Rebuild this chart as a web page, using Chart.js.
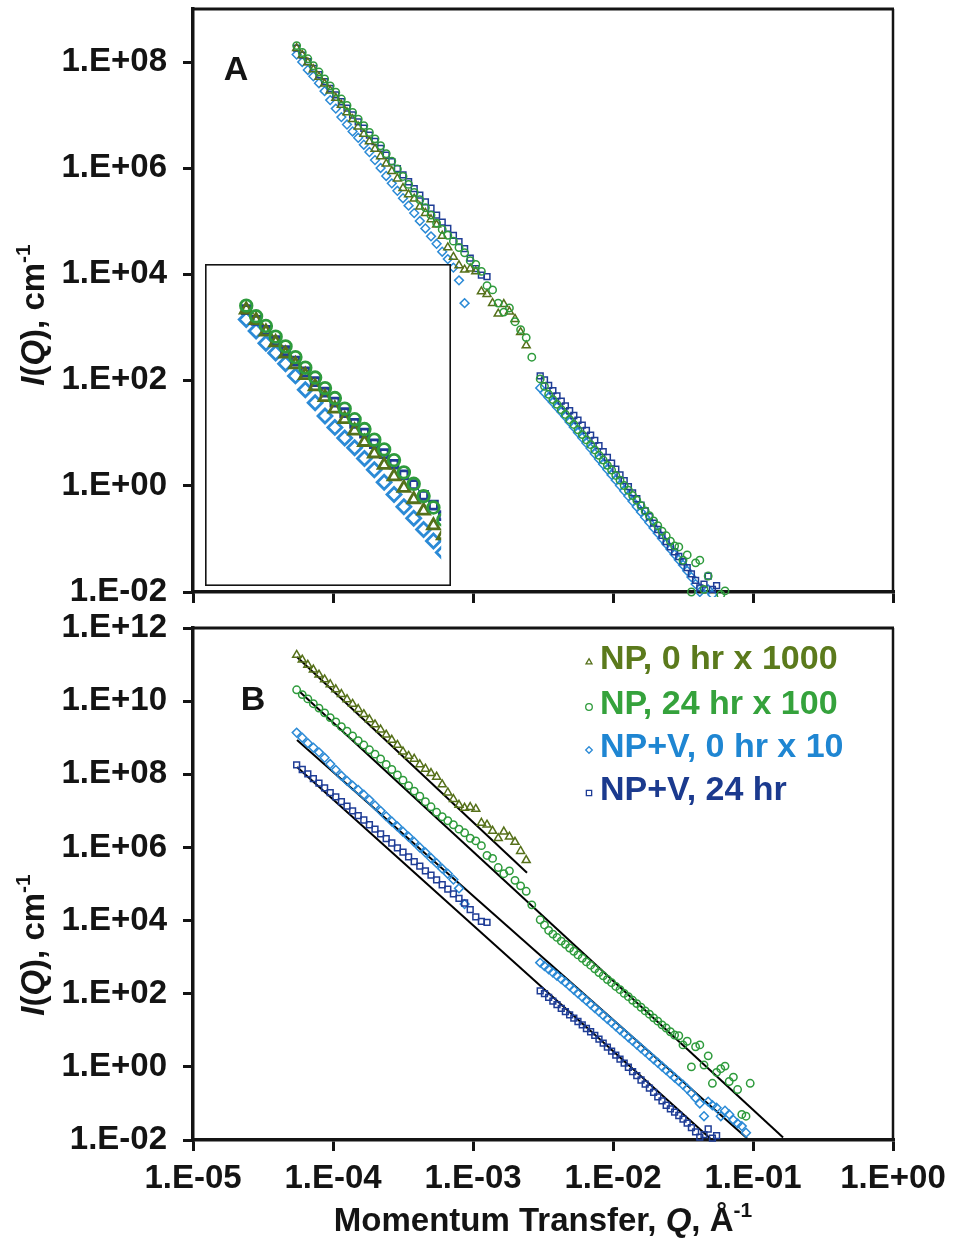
<!DOCTYPE html>
<html>
<head>
<meta charset="utf-8">
<title>SANS / USANS intensity</title>
<script src="https://cdn.jsdelivr.net/npm/chart.js@4.4.1/dist/chart.umd.min.js"></script>
<style>
  body { margin: 0; background: #fff; }
  #wrap { position: relative; width: 955px; height: 1240px; }
  canvas { position: absolute; left: 0; }
  #chartA { top: 0; }
  #chartB { top: 614px; }
  #inset { left: 205px; top: 264px; }
</style>
</head>
<body>
<div id="wrap">
  <canvas id="chartA" width="955" height="614"></canvas>
  <canvas id="chartB" width="955" height="626"></canvas>
  <canvas id="inset" width="246" height="322"></canvas>
</div>
<script>
// ---- data (raw intensities, cm-1) ----
const qUsans = [5.50e-5, 6.03e-5, 6.61e-5, 7.24e-5, 7.94e-5, 8.71e-5, 9.55e-5, 1.047e-4, 1.148e-4, 1.259e-4,
  1.380e-4, 1.514e-4, 1.660e-4, 1.820e-4, 1.995e-4, 2.188e-4, 2.399e-4, 2.630e-4, 2.884e-4, 3.162e-4,
  3.467e-4, 3.802e-4, 4.169e-4, 4.571e-4, 5.012e-4, 5.495e-4, 6.026e-4, 6.607e-4, 7.244e-4, 7.943e-4,
  8.710e-4, 9.550e-4, 1.047e-3, 1.148e-3, 1.259e-3, 1.380e-3, 1.514e-3, 1.660e-3, 1.820e-3, 1.995e-3,
  2.188e-3, 2.399e-3, 2.630e-3];
const qSans = [3.02e-3, 3.24e-3, 3.47e-3, 3.72e-3, 3.98e-3, 4.27e-3, 4.57e-3, 4.90e-3, 5.25e-3, 5.62e-3,
  6.03e-3, 6.46e-3, 6.92e-3, 7.41e-3, 7.94e-3, 8.51e-3, 9.12e-3, 9.77e-3, 1.047e-2, 1.122e-2,
  1.202e-2, 1.288e-2, 1.380e-2, 1.479e-2, 1.585e-2, 1.698e-2, 1.820e-2, 1.950e-2, 2.089e-2, 2.239e-2,
  2.399e-2, 2.570e-2, 2.754e-2, 2.951e-2, 3.162e-2, 3.388e-2, 3.631e-2, 3.890e-2, 4.169e-2, 4.467e-2,
  4.786e-2, 5.129e-2, 5.495e-2, 5.888e-2, 6.310e-2, 6.761e-2, 7.244e-2, 7.762e-2, 8.318e-2, 8.913e-2,
  9.550e-2];

const npZeroUsans = [1.82e8, 1.35e8, 9.77e7, 7.24e7, 5.25e7, 3.89e7, 2.88e7, 2.09e7, 1.55e7, 1.12e7,
  8.32e6, 6.03e6, 4.37e6, 3.16e6, 2.29e6, 1.66e6, 1.20e6, 8.71e5, 6.31e5, 4.17e5,
  3.16e5, 2.63e5, 1.86e5, 1.41e5, 1.07e5, 8.51e4, 5.25e4, 3.16e4, 2.09e4, 1.45e4,
  1.20e4, 1.26e4, 1.12e4, 4.68e3, 4.17e3, 2.82e3, 1.78e3, 2.69e3, 1.95e3, 1.41e3,
  7.94e2, 4.47e2];
const np24Usans = [2.04e8, 1.51e8, 1.15e8, 8.51e7, 6.46e7, 4.79e7, 3.55e7, 2.69e7, 2.00e7, 1.51e7,
  1.12e7, 8.32e6, 6.31e6, 4.68e6, 3.55e6, 2.63e6, 1.86e6, 1.35e6, 9.55e5, 6.92e5,
  4.90e5, 3.47e5, 2.51e5, 1.78e5, 1.29e5, 9.12e4, 6.92e4, 5.37e4, 4.17e4, 3.16e4,
  2.51e4, 1.78e4, 1.51e4, 1.12e4, 6.03e3, 5.01e3, 2.82e3, 1.91e3, 2.29e3, 1.26e3,
  8.91e2, 6.31e2, 2.69e2];
const npv0Usans = [1.38e8, 1.00e8, 7.08e7, 5.37e7, 3.98e7, 2.82e7, 1.91e7, 1.32e7, 9.12e6, 6.61e6,
  4.90e6, 3.72e6, 2.75e6, 2.00e6, 1.41e6, 1.00e6, 7.08e5, 5.13e5, 3.72e5, 2.69e5,
  1.95e5, 1.41e5, 1.00e5, 7.24e4, 5.13e4, 3.72e4, 2.63e4, 1.91e4, 1.32e4, 7.59e3,
  2.82e3];
const npv24Usans = [1.82e8, 1.35e8, 1.02e8, 7.59e7, 5.75e7, 4.27e7, 3.16e7, 2.40e7, 1.78e7, 1.35e7,
  1.00e7, 7.41e6, 5.62e6, 4.17e6, 3.16e6, 2.34e6, 1.74e6, 1.32e6, 9.77e5, 7.41e5,
  5.50e5, 4.07e5, 3.09e5, 2.29e5, 1.74e5, 1.29e5, 9.55e4, 7.24e4, 5.37e4, 4.07e4,
  3.02e4, 2.00e4, 1.26e4, 9.55e3, 8.91e3];

const np24Sans = [105, 75.9, 53.7, 42.7, 34.7, 27.5, 22.4, 17.8, 14.5, 11.5,
  9.33, 7.41, 6.03, 4.79, 3.80, 3.09, 2.45, 2.00, 1.58, 1.29,
  1.02, 0.832, 0.661, 0.537, 0.427, 0.339, 0.275, 0.219, 0.178, 0.141,
  0.115, 0.0912, 0.0741, 0.0708, 0.0398, 0.0501, 0.0100, 0.0355, 0.0398, 0.0112,
  0.0200, 0.00355, 0.00708, 0.00891, 0.0105, 0.00398, 0.00525, 0.00240, 0.000500, 0.000447,
  0.00355];
const npv0Sans = [70.8, 57.5, 46.8, 38.0, 30.9, 25.1, 20.4, 16.2, 12.9, 10.2,
  8.13, 6.46, 5.13, 4.07, 3.24, 2.57, 2.04, 1.62, 1.29, 1.02,
  0.813, 0.646, 0.513, 0.407, 0.324, 0.257, 0.204, 0.162, 0.129, 0.102,
  0.0813, 0.0646, 0.0513, 0.0407, 0.0324, 0.0251, 0.0191, 0.0141, 0.0100, 0.00447,
  0.0112, 0.00891, 0.00759, 0.00447, 0.00631, 0.00501, 0.00355, 0.00282, 0.00240, 0.00158];
const npv24Sans = [120, 100, 79.4, 63.1, 50.1, 39.8, 32.4, 26.3, 21.4, 17.4,
  14.1, 11.2, 9.12, 7.24, 5.75, 4.47, 3.47, 2.69, 2.09, 1.62,
  1.26, 0.977, 0.741, 0.575, 0.437, 0.339, 0.263, 0.200, 0.151, 0.117,
  0.0891, 0.0708, 0.0575, 0.0468, 0.0372, 0.0288, 0.0219, 0.0166, 0.0120, 0.0141,
  0.0200, 0.0112, 0.0132];

const seriesNames = ['NP, 0 hr x 1000', 'NP, 24 hr x 100', 'NP+V, 0 hr x 10', 'NP+V, 24 hr'];
const scaleFactors = [1000, 100, 10, 1];

// power-law fit lines shown in panel B (already multiplied)
const fitQ = [[5.53e-5, 2.43e-3], [5.81e-5, 0.164], [5.53e-5, 0.0906], [5.53e-5, 0.0493]];
const fitI = [[1.62e11, 2.04e5], [1.78e10, 1.17e-2], [8.71e8, 1.12e-2], [1.58e8, 1.12e-2]];

const xTickVals = [1e-5, 1e-4, 1e-3, 1e-2, 1e-1, 1];
const xTickLabels = ['1.E-05', '1.E-04', '1.E-03', '1.E-02', '1.E-01', '1.E+00'];
const yTickValsA = [1e-2, 1, 1e2, 1e4, 1e6, 1e8];
const yTickLabelsA = ['1.E-02', '1.E+00', '1.E+02', '1.E+04', '1.E+06', '1.E+08'];
const yTickValsB = [1e-2, 1, 1e2, 1e4, 1e6, 1e8, 1e10, 1e12];
const yTickLabelsB = ['1.E-02', '1.E+00', '1.E+02', '1.E+04', '1.E+06', '1.E+08', '1.E+10', '1.E+12'];

// ---- styling ----
const FONT = "'Liberation Sans', Arial, Helvetica, sans-serif";
const INK = '#141414';
const markColors = ['#56701a', '#2e9b3c', '#2b8ad6', '#1f3d96'];
const textColors = ['#5b7a1c', '#35a23c', '#1f86d2', '#1b3a8e'];
const markStyles = ['triangle', 'circle', 'rectRot', 'rect'];
const markRadius = [4.6, 3.7, 4.4, 4.1];
const drawOrder = [1, 0, 3, 2];

Chart.defaults.font.family = FONT;
Chart.defaults.color = INK;

const usans = [npZeroUsans, np24Usans, npv0Usans, npv24Usans];
const sans = [[], np24Sans, npv0Sans, npv24Sans];

function pts(q, vals, factor) {
  return vals.map((v, i) => ({ x: q[i], y: v * factor }));
}

function markerSet(i, data, r, lw) {
  return {
    data: data,
    showLine: false,
    pointStyle: markStyles[i],
    pointRadius: r,
    pointBorderWidth: lw,
    pointBorderColor: markColors[i],
    pointBackgroundColor: 'rgba(0,0,0,0)',
    borderColor: markColors[i],
    backgroundColor: 'rgba(0,0,0,0)',
    order: drawOrder[i],
    clip: 5
  };
}

function xAxis(showLabels, h) {
  return {
    type: 'logarithmic', min: 1e-5, max: 1,
    afterBuildTicks: ax => { ax.ticks = xTickVals.map(v => ({ value: v })); },
    afterFit: ax => { ax.height = h; ax.paddingLeft = 0; ax.paddingRight = 0; },
    border: { display: true, width: 3.5, color: INK },
    grid: { drawOnChartArea: false, drawTicks: true, tickLength: 11, lineWidth: 3, color: INK },
    ticks: {
      display: showLabels, autoSkip: false, maxRotation: 0, minRotation: 0, padding: 8, color: INK,
      font: { size: 33, weight: 'bold' },
      callback: v => xTickLabels[xTickVals.indexOf(v)]
    }
  };
}

function yAxis(vals, labels, min, max) {
  return {
    type: 'logarithmic', min: min, max: max,
    afterBuildTicks: ax => { ax.ticks = vals.map(v => ({ value: v })); },
    afterFit: ax => { ax.width = 193; ax.paddingTop = 0; ax.paddingBottom = 0; },
    border: { display: true, width: 3.5, color: INK },
    grid: { drawOnChartArea: false, drawTicks: true, tickLength: 10, lineWidth: 3, color: INK },
    ticks: {
      autoSkip: false, padding: 16, color: INK,
      font: { size: 33, weight: 'bold' },
      callback: v => labels[vals.indexOf(v)]
    }
  };
}

// text with mixed styles, centred on (x, y)
function richText(ctx, parts, x, y, rotate) {
  const size = 33;
  const fontOf = p => (p.it ? 'italic ' : '') + 'bold ' + (p.sup ? 21 : size) + 'px ' + FONT;
  ctx.save();
  ctx.translate(x, y);
  if (rotate) ctx.rotate(-Math.PI / 2);
  let total = 0;
  parts.forEach(p => { ctx.font = fontOf(p); total += ctx.measureText(p.t).width; });
  let cx = -total / 2;
  ctx.fillStyle = INK;
  ctx.textAlign = 'left';
  ctx.textBaseline = 'middle';
  parts.forEach(p => {
    ctx.font = fontOf(p);
    ctx.fillText(p.t, cx, p.sup ? -11 : 0);
    cx += ctx.measureText(p.t).width;
  });
  ctx.restore();
}

const yTitle = [{ t: 'I', it: true }, { t: '(' }, { t: 'Q', it: true }, { t: '), cm' }, { t: '-1', sup: true }];
const xTitle = [{ t: 'Momentum Transfer, ' }, { t: 'Q', it: true }, { t: ', Å' }, { t: '-1', sup: true }];

function drawFrame(ctx, a) {
  ctx.save();
  ctx.strokeStyle = INK;
  ctx.lineWidth = 3;
  ctx.beginPath();
  ctx.moveTo(a.left, a.top);
  ctx.lineTo(a.right + 1, a.top);
  ctx.stroke();
  ctx.lineWidth = 2.5;
  ctx.beginPath();
  ctx.moveTo(a.right, a.top);
  ctx.lineTo(a.right, a.bottom);
  ctx.stroke();
  ctx.restore();
}

function drawMarker(ctx, style, x, y, r, color) {
  ctx.save();
  ctx.strokeStyle = color;
  ctx.lineWidth = 1.3;
  ctx.beginPath();
  if (style === 'circle') {
    ctx.arc(x, y, r, 0, Math.PI * 2);
  } else if (style === 'rect') {
    ctx.rect(x - r * 0.8, y - r * 0.8, r * 1.6, r * 1.6);
  } else if (style === 'rectRot') {
    ctx.moveTo(x, y - r); ctx.lineTo(x + r, y); ctx.lineTo(x, y + r); ctx.lineTo(x - r, y); ctx.closePath();
  } else {
    ctx.moveTo(x, y - r); ctx.lineTo(x + r * 0.9, y + r * 0.55); ctx.lineTo(x - r * 0.9, y + r * 0.55); ctx.closePath();
  }
  ctx.stroke();
  ctx.restore();
}

const decorA = {
  id: 'decorA',
  afterDraw(chart) {
    const ctx = chart.ctx;
    drawFrame(ctx, chart.chartArea);
    ctx.save();
    ctx.fillStyle = INK;
    ctx.font = 'bold 34px ' + FONT;
    ctx.textAlign = 'center';
    ctx.textBaseline = 'middle';
    ctx.fillText('A', 236, 71);
    ctx.restore();
    richText(ctx, yTitle, 35, 315, true);
  }
};

const decorB = {
  id: 'decorB',
  afterDraw(chart) {
    const ctx = chart.ctx;
    drawFrame(ctx, chart.chartArea);
    ctx.save();
    ctx.fillStyle = INK;
    ctx.font = 'bold 34px ' + FONT;
    ctx.textAlign = 'center';
    ctx.textBaseline = 'middle';
    ctx.fillText('B', 253, 87);
    // legend
    const rowY = [46, 91, 134, 177];
    ctx.font = 'bold 34px ' + FONT;
    ctx.textAlign = 'left';
    seriesNames.forEach((name, i) => {
      drawMarker(ctx, markStyles[i], 589, rowY[i] + 2, 3.3, markColors[i]);
      ctx.fillStyle = textColors[i];
      ctx.fillText(name, 600, rowY[i]);
    });
    ctx.restore();
    richText(ctx, yTitle, 35, 331, true);
    richText(ctx, xTitle, 543, 608, false);
  }
};

// ---- panel A: raw data ----
const setsA = usans.map((u, i) => markerSet(i,
  pts(qUsans, u, 1).concat(pts(qSans, sans[i], 1)), markRadius[i], 1.5));

new Chart(document.getElementById('chartA'), {
  type: 'scatter',
  data: { datasets: setsA },
  options: {
    responsive: false, animation: false, devicePixelRatio: 1,
    layout: { padding: { left: 0, top: 9, right: 62, bottom: 0 } },
    scales: { x: xAxis(false, 22), y: yAxis(yTickValsA, yTickLabelsA, 1e-2, 1e9) },
    plugins: { legend: { display: false }, tooltip: { enabled: false } }
  },
  plugins: [decorA]
});

// ---- panel B: offset data with fits ----
const setsB = usans.map((u, i) => markerSet(i,
  pts(qUsans, u, scaleFactors[i]).concat(pts(qSans, sans[i], scaleFactors[i])), markRadius[i], 1.5));
fitQ.forEach((q, i) => {
  setsB.push({
    type: 'line',
    data: q.map((v, j) => ({ x: v, y: fitI[i][j] })),
    borderColor: '#000',
    borderWidth: 2,
    pointRadius: 0,
    fill: false,
    order: 10
  });
});

new Chart(document.getElementById('chartB'), {
  type: 'scatter',
  data: { datasets: setsB },
  options: {
    responsive: false, animation: false, devicePixelRatio: 1,
    layout: { padding: { left: 0, top: 14, right: 62, bottom: 0 } },
    scales: { x: xAxis(true, 100), y: yAxis(yTickValsB, yTickLabelsB, 1e-2, 1e12) },
    plugins: { legend: { display: false }, tooltip: { enabled: false } }
  },
  plugins: [decorB]
});

// ---- inset: close-up of the low-Q start ----
const insetRadius = [6.8, 5.8, 7.0, 5.6];
const insetSets = usans.map((u, i) => {
  const s = markerSet(i, pts(qUsans, u.slice(0, 22), 1), insetRadius[i], 2.8);
  s.clip = 0;
  return s;
});
const insetBox = {
  id: 'insetBox',
  beforeDraw(chart) {
    const ctx = chart.ctx;
    ctx.save();
    ctx.fillStyle = '#fff';
    ctx.fillRect(0, 0, chart.width, chart.height);
    ctx.restore();
  },
  afterDraw(chart) {
    const ctx = chart.ctx;
    ctx.save();
    ctx.strokeStyle = INK;
    ctx.lineWidth = 1.6;
    ctx.strokeRect(0.8, 0.8, chart.width - 1.6, chart.height - 1.6);
    ctx.restore();
  }
};

new Chart(document.getElementById('inset'), {
  type: 'scatter',
  data: { datasets: insetSets },
  options: {
    responsive: false, animation: false, devicePixelRatio: 1,
    layout: { padding: 0 },
    scales: {
      x: { type: 'logarithmic', display: false, min: 4.1e-5, max: 3.4e-4 },
      y: { type: 'logarithmic', display: false, min: 1.0e5, max: 5.0e8 }
    },
    plugins: { legend: { display: false }, tooltip: { enabled: false } }
  },
  plugins: [insetBox]
});
</script>
</body>
</html>
